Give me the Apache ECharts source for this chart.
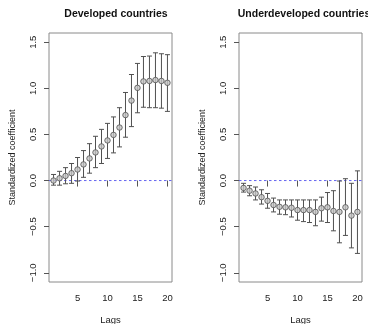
<!DOCTYPE html>
<html>
<head>
<meta charset="utf-8">
<script src="https://cdn.jsdelivr.net/npm/echarts@6/dist/echarts.min.js"></script>
<style>html,body{margin:0;padding:0;background:#fff}#c{width:368px;height:324px}</style>
</head>
<body>
<div id="c"></div>
<script>
var lags = [1,2,3,4,5,6,7,8,9,10,11,12,13,14,15,16,17,18,19,20];
var devEst  = [0.00,0.025,0.05,0.08,0.12,0.175,0.24,0.305,0.37,0.435,0.495,0.575,0.71,0.867,1.005,1.075,1.08,1.09,1.08,1.06];
var devLow  = [-0.05,-0.05,-0.035,-0.03,-0.005,0.035,0.08,0.14,0.185,0.24,0.30,0.365,0.47,0.585,0.735,0.795,0.79,0.79,0.785,0.75];
var devHigh = [0.066,0.10,0.14,0.185,0.25,0.325,0.40,0.48,0.555,0.62,0.69,0.79,0.955,1.15,1.27,1.345,1.35,1.385,1.375,1.365];
var undEst  = [-0.08,-0.11,-0.14,-0.18,-0.22,-0.265,-0.285,-0.29,-0.295,-0.32,-0.32,-0.32,-0.34,-0.30,-0.29,-0.33,-0.34,-0.29,-0.38,-0.34];
var undLow  = [-0.125,-0.165,-0.21,-0.255,-0.30,-0.34,-0.365,-0.37,-0.395,-0.43,-0.445,-0.455,-0.49,-0.44,-0.455,-0.545,-0.675,-0.595,-0.73,-0.79];
var undHigh = [-0.03,-0.055,-0.07,-0.10,-0.14,-0.19,-0.21,-0.21,-0.21,-0.21,-0.21,-0.21,-0.21,-0.18,-0.13,-0.11,-0.005,0.02,-0.03,0.105];
var titles = ['Developed countries','Underdeveloped countries'];
var xTicks = [5,10,15,20];
var yTicks = [-1.0,-0.5,0.0,0.5,1.0,1.5];
var refLevel = 0;
var xRange = [0.24, 20.76];

var chart = echarts.init(document.getElementById('c'), null, {renderer:'canvas'});
var font = 'Liberation Sans, Arial, Helvetica, sans-serif';
var grids = [
  {left:49, top:33, width:123, height:249, show:true, borderColor:'#8a8a8a', borderWidth:1, backgroundColor:'transparent', containLabel:false, outerBoundsMode:'none'},
  {left:239, top:33, width:123, height:249, show:true, borderColor:'#8a8a8a', borderWidth:1, backgroundColor:'transparent', containLabel:false, outerBoundsMode:'none'}
];
function xAx(i){
  return {type:'value', gridIndex:i, min:xRange[0], max:xRange[1],
    name:'Lags', nameLocation:'middle', nameGap:33,
    nameTextStyle:{fontFamily:font, fontSize:9.5, color:'#222'},
    axisLine:{show:false}, splitLine:{show:false},
    axisTick:{show:true, inside:false, length:6, customValues:xTicks, lineStyle:{color:'#555'}},
    axisLabel:{customValues:xTicks, margin:11, fontFamily:font, fontSize:9.5, color:'#222'}};
}
function yAx(i){
  return {type:'value', gridIndex:i, min:-1.1, max:1.6,
    name:'Standardized coefficient', nameLocation:'middle', nameGap:32,
    nameTextStyle:{fontFamily:font, fontSize:9, color:'#222'},
    axisLine:{show:false}, splitLine:{show:false},
    axisTick:{show:true, inside:false, length:5, customValues:yTicks, lineStyle:{color:'#555'}},
    axisLabel:{customValues:yTicks, rotate:90, margin:11, fontFamily:font, fontSize:9.5, color:'#222',
      formatter:function(v){ return (v<0?'\u2212':'') + Math.abs(v).toFixed(1); }}};
}
function errSeries(i, lo, hi){
  return {type:'custom', xAxisIndex:i, yAxisIndex:i, z:3,
    data: lags.map(function(l,k){ return [l, lo[k], hi[k]]; }),
    renderItem:function(params, api){
      var a = api.coord([api.value(0), api.value(1)]);
      var b = api.coord([api.value(0), api.value(2)]);
      var w = 2.5;
      var st = {stroke:'#505050', lineWidth:1};
      return {type:'group', children:[
        {type:'line', shape:{x1:a[0],y1:a[1],x2:b[0],y2:b[1]}, style:st},
        {type:'line', shape:{x1:a[0]-w,y1:a[1],x2:a[0]+w,y2:a[1]}, style:st},
        {type:'line', shape:{x1:b[0]-w,y1:b[1],x2:b[0]+w,y2:b[1]}, style:st}
      ]};
    }};
}
function ptSeries(i, est){
  return {type:'scatter', xAxisIndex:i, yAxisIndex:i, z:4,
    data: lags.map(function(l,k){ return [l, est[k]]; }),
    symbol:'circle', symbolSize:5.5,
    itemStyle:{color:'#c4c4c4', borderColor:'#505050', borderWidth:1},
    emphasis:{disabled:true}};
}
function zeroLine(i){
  return {type:'line', xAxisIndex:i, yAxisIndex:i, z:2, symbol:'none', silent:true,
    data:[[xRange[0], refLevel],[xRange[1], refLevel]],
    lineStyle:{color:'#6464f0', type:[2.5,2.5], width:1}};
}
var option = {
  animation:false,
  backgroundColor:'#fff',
  title:[
    {text:titles[0], left:111, top:4, textAlign:'center', textStyle:{fontFamily:font, fontSize:10.5, fontWeight:'bold', color:'#111'}},
    {text:titles[1], left:299, top:4, textAlign:'center', textStyle:{fontFamily:font, fontSize:10.5, fontWeight:'bold', color:'#111'}}
  ],
  grid:grids,
  xAxis:[xAx(0), xAx(1)],
  yAxis:[yAx(0), yAx(1)],
  series:[zeroLine(0), errSeries(0, devLow, devHigh), ptSeries(0, devEst),
          zeroLine(1), errSeries(1, undLow, undHigh), ptSeries(1, undEst)]
};
chart.setOption(option);
</script>
</body>
</html>
